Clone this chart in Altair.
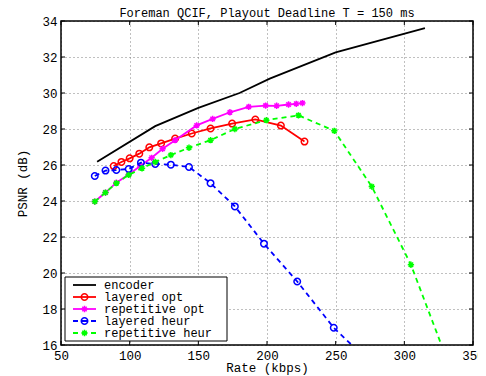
import altair as alt
import pandas as pd

# ---------------- data ----------------
TITLE = "Foreman QCIF, Playout Deadline T = 150 ms"
X_TITLE = "Rate (kbps)"
Y_TITLE = "PSNR (dB)"
X_TICKS = [50, 100, 150, 200, 250, 300, 350]
Y_TICKS = [16, 18, 20, 22, 24, 26, 28, 30, 32, 34]

SERIES_NAMES = ["encoder", "layered opt", "repetitive opt", "layered heur", "repetitive heur"]

ENC_X = [76.3, 118.6, 150, 180, 202, 250, 315]
ENC_Y = [26.18, 28.16, 29.17, 30.0, 30.8, 32.26, 33.6]

LOPT_X = [88.4, 94.0, 100, 107, 114.3, 122.9, 133.1, 145.2, 158.9, 174.6, 191.5, 210.1, 227.3]
LOPT_Y = [25.94, 26.17, 26.37, 26.63, 26.98, 27.2, 27.47, 27.75, 28.03, 28.3, 28.53, 28.19, 27.3]

ROPT_X = [74.6, 82.4, 90.3, 99.3, 107.7, 116, 124, 133.1, 148.8, 160.4, 173, 186.7, 199, 207, 215.7, 221.3, 225.8]
ROPT_Y = [23.97, 24.47, 25.02, 25.47, 25.94, 26.4, 26.9, 27.38, 28.2, 28.56, 28.93, 29.23, 29.3, 29.29, 29.36, 29.4, 29.44]

LHEU_X = [74.6, 82.4, 90.3, 99.3, 108.2, 118.6, 130, 143.2, 158.9, 176.6, 197.8, 222, 248.6, 272]
LHEU_Y = [25.39, 25.69, 25.72, 25.78, 26.13, 26.06, 26.02, 25.89, 24.99, 23.7, 21.63, 19.53, 16.96, 15.25]

RHEU_X = [74.6, 82.4, 90.3, 99.3, 109, 118.6, 130, 143.2, 158.9, 176.6, 199.5, 222.9, 249, 276.3, 304.8, 335]
RHEU_Y = [23.97, 24.47, 24.99, 25.45, 25.82, 26.17, 26.55, 26.96, 27.38, 28.0, 28.49, 28.76, 27.9, 24.8, 20.46, 14.4]

SERIES_X = [ENC_X, LOPT_X, ROPT_X, LHEU_X, RHEU_X]
SERIES_Y = [ENC_Y, LOPT_Y, ROPT_Y, LHEU_Y, RHEU_Y]

# ---------------- styles ----------------
W, H = 412, 324
FONT = "Liberation Mono"
FS = 12.5
LFS = 12
ASTERISK = "M-1,0L1,0M0,-1L0,1M-0.7,-0.7L0.7,0.7M-0.7,0.7L0.7,-0.7"
COLORS = ["#000000", "#ff0000", "#ff00ff", "#0000ff", "#00ff00"]
DASHED = [False, False, False, True, True]
SHAPES = [None, "circle", ASTERISK, "circle", ASTERISK]
SIZES = [0, 42, 40, 42, 40]
LW = 1.8
DASH = [5, 4]

xscale = alt.Scale(domain=[50, 350], nice=False, zero=False)
yscale = alt.Scale(domain=[16, 34], nice=False, zero=False)
common_axis = dict(grid=True, ticks=False, domain=False, format="d",
                   labelFont=FONT, labelFontSize=FS, labelColor="black",
                   titleFont=FONT, titleFontSize=FS, titleFontWeight="normal", titleColor="black",
                   gridColor="#808080", gridDash=[1, 3], gridWidth=1, gridOpacity=1)
xaxis = alt.Axis(values=X_TICKS, title=X_TITLE, labelFlush=False, labelPadding=4, titlePadding=0,
                 **common_axis)
yaxis = alt.Axis(values=Y_TICKS, title=Y_TITLE, labelPadding=4, titlePadding=12, **common_axis)
X = alt.X("rate:Q", scale=xscale, axis=xaxis)
Y = alt.Y("psnr:Q", scale=yscale, axis=yaxis)

layers = []
for i, name in enumerate(SERIES_NAMES):
    df = pd.DataFrame({"rate": SERIES_X[i], "psnr": SERIES_Y[i]})
    lkw = dict(color=COLORS[i], strokeWidth=LW, clip=True)
    if DASHED[i]:
        lkw["strokeDash"] = DASH
    layers.append(alt.Chart(df).mark_line(**lkw).encode(x=X, y=Y))
    if SHAPES[i]:
        layers.append(alt.Chart(df).mark_point(shape=SHAPES[i], size=SIZES[i], color=COLORS[i],
                                               filled=False, strokeWidth=1.5, clip=True,
                                               opacity=1).encode(x=X, y=Y))

# inward ticks on all four sides
xt = pd.DataFrame({"rate": X_TICKS})
yt = pd.DataFrame({"psnr": Y_TICKS})
layers.append(alt.Chart(xt).mark_rule(color="black", strokeWidth=1).encode(x=X, y=alt.value(H), y2=alt.value(H - 4)))
layers.append(alt.Chart(xt).mark_rule(color="black", strokeWidth=1).encode(x=X, y=alt.value(0), y2=alt.value(4)))
layers.append(alt.Chart(yt).mark_rule(color="black", strokeWidth=1).encode(y=Y, x=alt.value(0), x2=alt.value(4)))
layers.append(alt.Chart(yt).mark_rule(color="black", strokeWidth=1).encode(y=Y, x=alt.value(W), x2=alt.value(W - 4)))

# plot border
dummy = pd.DataFrame({"a": [0]})
layers.append(alt.Chart(dummy).mark_rect(filled=False, stroke="black", strokeWidth=1.5).encode(
    x=alt.value(0), x2=alt.value(W), y=alt.value(0), y2=alt.value(H)))

# legend box
LX0, LX1, LY0, LY1 = 4, 166, 256, 320
layers.append(alt.Chart(dummy).mark_rect(fill="white", stroke="black", strokeWidth=1).encode(
    x=alt.value(LX0), x2=alt.value(LX1), y=alt.value(LY0), y2=alt.value(LY1)))
for i, name in enumerate(SERIES_NAMES):
    yy = 264 + 12 * i
    ld = pd.DataFrame({"label": [name]})
    rkw = dict(color=COLORS[i], strokeWidth=LW)
    if DASHED[i]:
        rkw["strokeDash"] = DASH
    layers.append(alt.Chart(ld).mark_rule(**rkw).encode(x=alt.value(12), x2=alt.value(35), y=alt.value(yy)))
    if SHAPES[i]:
        layers.append(alt.Chart(ld).mark_point(shape=SHAPES[i], size=SIZES[i], color=COLORS[i],
                                               filled=False, strokeWidth=1.5, opacity=1).encode(
            x=alt.value(23.5), y=alt.value(yy)))
    layers.append(alt.Chart(ld).mark_text(align="left", baseline="middle", font=FONT, fontSize=LFS,
                                          color="black").encode(x=alt.value(43), y=alt.value(yy), text="label:N"))

chart = alt.layer(*layers).properties(
    width=W, height=H,
    title=alt.TitleParams(text=TITLE, font=FONT, fontSize=12, fontWeight="normal", color="black",
                          offset=7, anchor="middle", frame="group", dy=12),
    autosize=alt.AutoSizeParams(type="none"),
    padding={"left": 53, "top": 13, "right": 5, "bottom": 30},
).configure_view(stroke=None)

chart.save("out.html", embed_options={"renderer": "svg", "actions": False})
